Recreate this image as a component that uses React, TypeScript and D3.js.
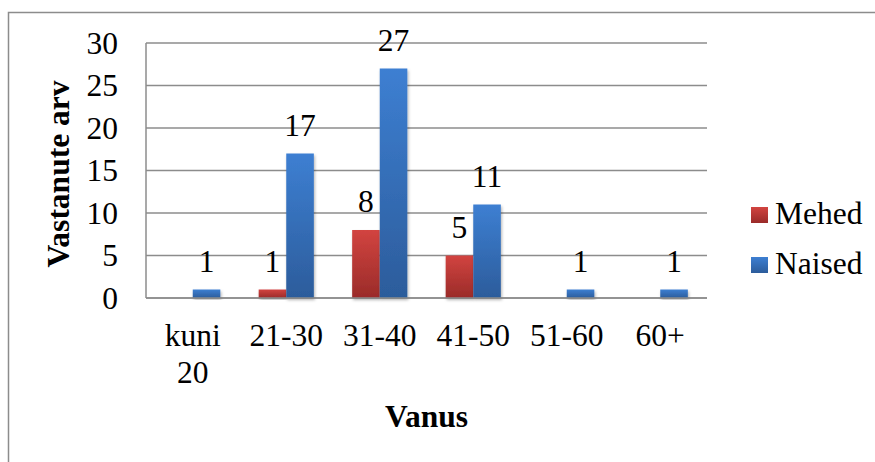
import React from 'react';
import * as d3 from 'd3';

const categories = ['kuni 20', '21-30', '31-40', '41-50', '51-60', '60+'];
const seriesNames = ['Mehed', 'Naised'];
const mehed = [0, 1, 8, 5, 0, 0];
const naised = [1, 17, 27, 11, 1, 1];
const yTicks = [0, 5, 10, 15, 20, 25, 30];

const FONT = "'Liberation Serif', 'Times New Roman', Times, serif";

const gradients = [
  { id: 'gradRed', top: '#d24440', bottom: '#9a2b29' },
  { id: 'gradBlue', top: '#3d7fd2', bottom: '#2c5c9b' },
];

const App: React.FC = () => {
  const width = 875;
  const height = 462;
  const plot = { left: 146, right: 707, top: 43, bottom: 298 };

  const x = d3.scaleBand<string>()
    .domain(categories)
    .range([plot.left, plot.right])
    .paddingInner(0.41)
    .paddingOuter(0.205);

  const xInner = d3.scaleBand<string>()
    .domain(seriesNames)
    .range([0, x.bandwidth()]);

  const y = d3.scaleLinear().domain([0, 30]).range([plot.bottom, plot.top]);

  const series = [mehed, naised];
  const textStyle = { fontFamily: FONT, fontSize: 31.5 };

  return (
    <svg
      width={width}
      height={height}
      style={{ position: 'absolute', left: 0, top: 0, background: '#fff', fontFamily: FONT }}
    >
      <defs>
        {gradients.map(g => (
          <linearGradient key={g.id} id={g.id} x1="0" y1="0" x2="0" y2="1">
            <stop offset="0%" stopColor={g.top} />
            <stop offset="100%" stopColor={g.bottom} />
          </linearGradient>
        ))}
        <filter id="shadow" x="-30%" y="-10%" width="160%" height="130%">
          <feDropShadow dx="1" dy="2" stdDeviation="1.5" floodColor="#000" floodOpacity="0.3" />
        </filter>
      </defs>

      {/* outer frame */}
      <rect x={8.5} y={12.5} width={width + 10} height={height + 10} fill="#fff" stroke="#8c8c8c" strokeWidth={1.5} />

      {/* grid */}
      {yTicks.map(t => (
        <line key={t} x1={plot.left} x2={plot.right} y1={y(t)} y2={y(t)} stroke="#8c8c8c" strokeWidth={1.5} />
      ))}
      <line x1={plot.left} x2={plot.left} y1={plot.top} y2={plot.bottom} stroke="#8c8c8c" strokeWidth={1.5} />

      {/* y tick labels */}
      {yTicks.map(t => (
        <text key={t} x={118} y={y(t)} dy="0.34em" textAnchor="end" style={textStyle} fill="#000">
          {t}
        </text>
      ))}

      {/* bars */}
      {categories.map((c, i) => (
        <g key={c}>
          {series.map((vals, s) => {
            const v = vals[i];
            if (!v) return null;
            const bx = (x(c) ?? 0) + (xInner(seriesNames[s]) ?? 0);
            return (
              <rect
                key={s}
                x={bx}
                y={y(v)}
                width={xInner.bandwidth()}
                height={y(0) - y(v)}
                fill={`url(#${gradients[s].id})`}
                filter="url(#shadow)"
              />
            );
          })}
        </g>
      ))}
      <line x1={plot.left} x2={plot.right} y1={plot.bottom} y2={plot.bottom} stroke="#8c8c8c" strokeWidth={1.5} />

      {/* value labels */}
      {categories.map((c, i) =>
        series.map((vals, s) => {
          const v = vals[i];
          if (!v) return null;
          const cx = (x(c) ?? 0) + (xInner(seriesNames[s]) ?? 0) + xInner.bandwidth() / 2;
          return (
            <text key={`${c}-${s}`} x={cx} y={y(v) - 18} textAnchor="middle" style={textStyle} fill="#000">
              {v}
            </text>
          );
        })
      )}

      {/* x tick labels */}
      {categories.map(c => (
        <text key={c} x={(x(c) ?? 0) + x.bandwidth() / 2} y={346} textAnchor="middle" style={textStyle} fill="#000">
          {c.split(' ').map((part, k) => (
            <tspan key={k} x={(x(c) ?? 0) + x.bandwidth() / 2} dy={k === 0 ? 0 : 37}>
              {part}
            </tspan>
          ))}
        </text>
      ))}

      {/* axis titles */}
      <text
        x={(plot.left + plot.right) / 2}
        y={427}
        textAnchor="middle"
        style={{ ...textStyle, fontWeight: 'bold' }}
        fill="#000"
      >
        Vanus
      </text>
      <text
        transform={`translate(69,174) rotate(-90)`}
        textAnchor="middle"
        style={{ ...textStyle, fontWeight: 'bold' }}
        fill="#000"
      >
        Vastanute arv
      </text>

      {/* legend */}
      {seriesNames.map((name, s) => (
        <g key={name} transform={`translate(751,${207 + s * 50})`}>
          <rect width={17} height={16} fill={`url(#${gradients[s].id})`} />
          <text x={24} y={17} style={textStyle} fill="#000">
            {name}
          </text>
        </g>
      ))}
    </svg>
  );
};

export default App;
